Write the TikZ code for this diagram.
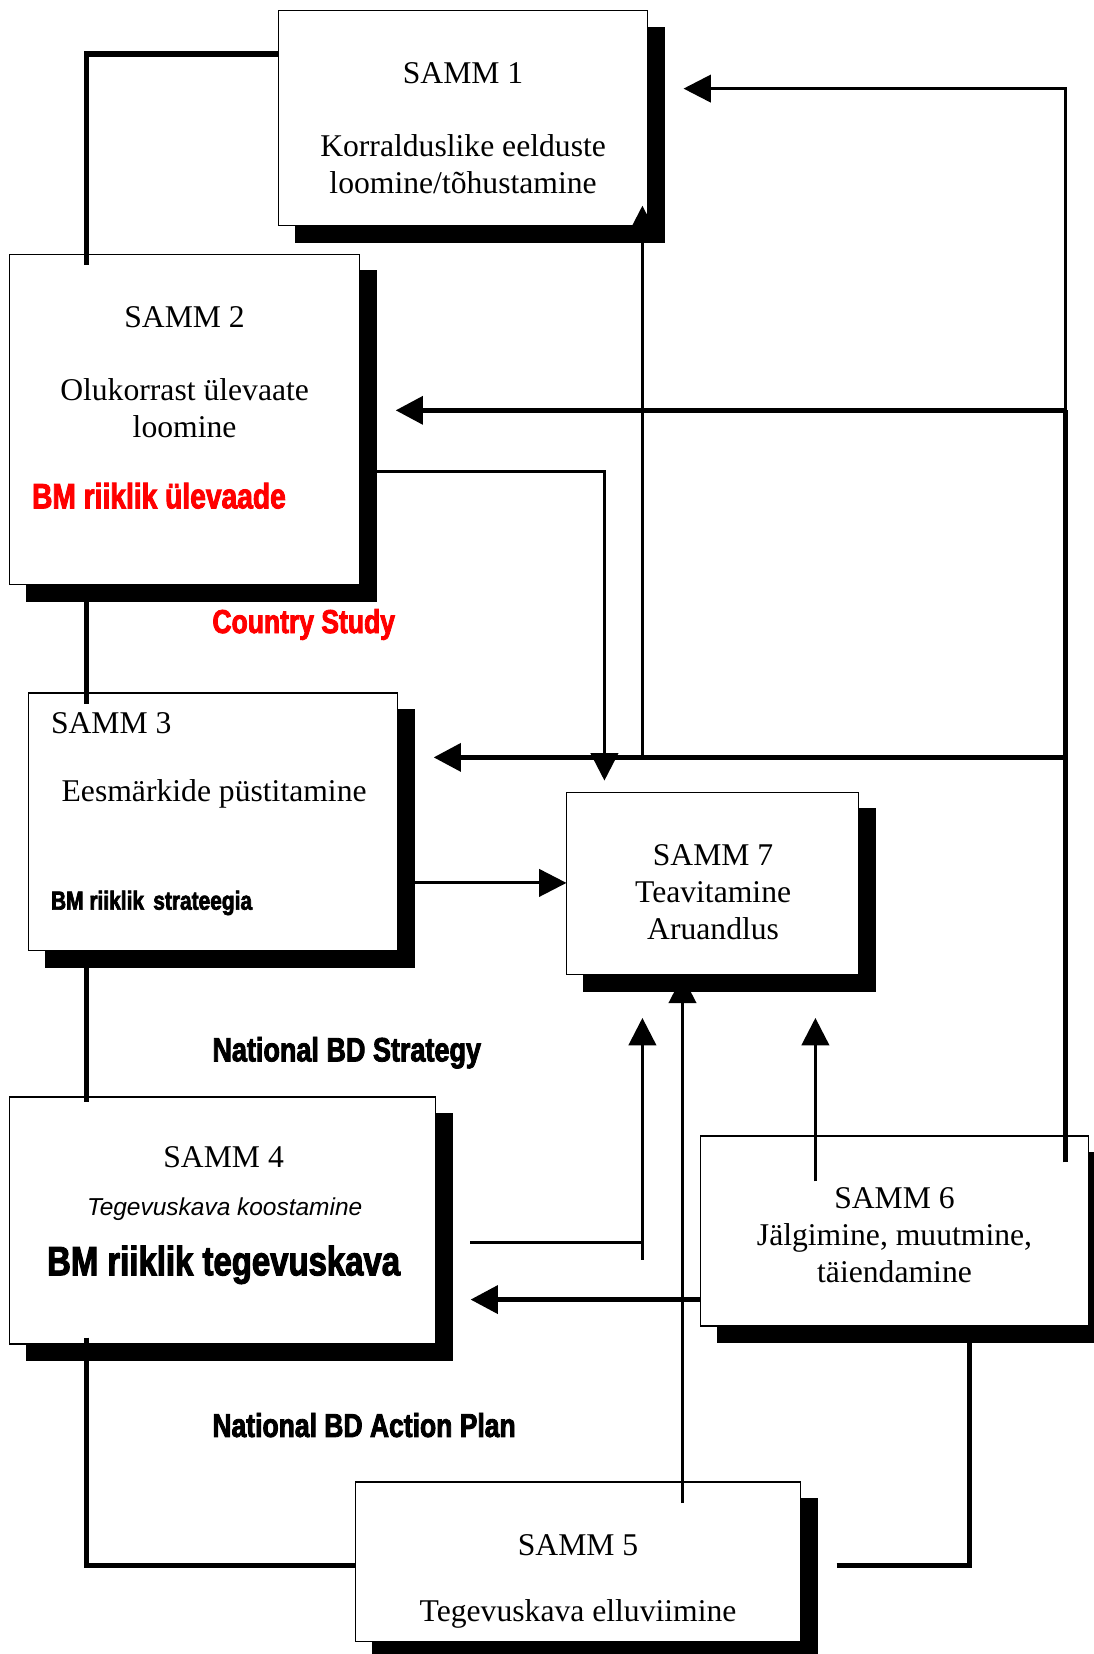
\documentclass[tikz,border=0pt]{standalone}
\usepackage{fontspec}
\setmainfont{Liberation Serif}
\newfontfamily\impact[FakeStretch=0.8,FakeBold=2.5]{Liberation Sans}
\newfontfamily\arialfam{Liberation Sans}
\usetikzlibrary{arrows.meta,shadows}
\begin{document}
\begin{tikzpicture}[x=0.5pt,y=-0.5pt,
  box/.style 2 args={draw=black, line width=0.6pt, fill=white, inner sep=0pt, outer sep=0pt,
    anchor=north west, minimum width=#1*0.5pt, minimum height=#2*0.5pt,
    general shadow={fill=black, draw=black, shadow xshift=8pt, shadow yshift=-8pt}},
  txt/.style={font=\fontsize{15}{17.5}\selectfont, align=center, inner sep=0pt},
  imp/.style={font=\impact\bfseries\fontsize{16}{19}\selectfont, inner sep=0pt, anchor=west},
  thk/.style={line width=2.6pt},
  thn/.style={line width=1.4pt},
  tip/.style={-{Triangle[length=13pt,width=13pt]}}
]
\useasboundingbox[fill=white] (0,0) rectangle (1037,1568);

% boxes
\node[box={350}{204}] (s1) at (264,10) {};
\node[box={332}{313}] (s2) at (9,241) {};
\node[box={350}{244}] (s3) at (27,657) {};
\node[box={277}{173}] (s7) at (537,751) {};
\node[box={404}{234}] (s4) at (9,1040) {};
\node[box={368}{180}] (s6) at (664,1077) {};
\node[box={422}{151}] (s5) at (337,1405) {};

% texts
\node[txt] (t1a) at (439,69) {SAMM 1};
\node[txt] (t1b) at (439,156) {Korralduslike eelduste\\loomine/tõhustamine};
\node[txt] (t2a) at (175,301) {SAMM 2};
\node[txt] (t2b) at (175,387) {Olukorrast ülevaate\\loomine};
\node[imp, text=red, font=\impact\bfseries\fontsize{16.7}{19}\selectfont] (t2c) at (30,470) {BM riiklik ülevaade};
\node[imp, text=red, font=\impact\bfseries\fontsize{15.7}{19}\selectfont] (t2d) at (201,592) {Country Study};
\node[txt, anchor=west] (t3a) at (48,686) {SAMM 3};
\node[txt] (t3b) at (203,753) {Eesmärkide püstitamine};
\node[imp, font=\impact\bfseries\fontsize{12.4}{15}\selectfont] (t3c) at (48,856) {BM riiklik\hspace{0.35em}strateegia};
\node[txt] (t7) at (676,846) {SAMM 7\\Teavitamine\\Aruandlus};
\node[imp] (tns) at (201,998) {National BD Strategy};
\node[txt] (t4a) at (212,1097) {SAMM 4};
\node[inner sep=0pt, font=\arialfam\itshape\fontsize{11.6}{14}\selectfont] (t4b) at (213,1146) {Tegevuskava koostamine};
\node[inner sep=0pt, font=\impact\bfseries\fontsize{19.5}{23}\selectfont] (t4c) at (212,1199) {BM riiklik tegevuskava};
\node[txt] (t6) at (848,1171) {SAMM 6\\Jälgimine, muutmine,\\täiendamine};
\node[imp, font=\impact\bfseries\fontsize{15.7}{19}\selectfont] (tna) at (201,1351) {National BD Action Plan};
\node[txt] (t5a) at (548,1465) {SAMM 5};
\node[txt] (t5b) at (548,1530) {Tegevuskava elluviimine};

% coordinates
\coordinate (a1) at (82,51);
\coordinate (a2) at (82,251);
\coordinate (b1) at (82,570);
\coordinate (b2) at (82,667);
\coordinate (c1) at (82,917);
\coordinate (c2) at (82,1045);
\coordinate (d1) at (82,1268);
\coordinate (d2) at (82,1484);
\coordinate (e1) at (793,1484);
\coordinate (e2) at (919,1484);
\coordinate (e3) at (919,1273);
\coordinate (r0) at (1010,1102);
\coordinate (r1) at (1010,718);
\coordinate (r2) at (1010,389);
\coordinate (r3) at (1010,84);
\coordinate (h1) at (375,389);
\coordinate (h2) at (411,718);
\coordinate (h3) at (648,84);
\coordinate (f1) at (357,447);
\coordinate (f2) at (573,447);
\coordinate (f3) at (573,740);
\coordinate (g1) at (609,718);
\coordinate (g2) at (609,195);
\coordinate (k1) at (393,837);
\coordinate (m1) at (647,1425);
\coordinate (m2) at (647,925);
\coordinate (n1) at (446,1178);
\coordinate (n2) at (609,1178);
\coordinate (n3) at (609,1194);
\coordinate (n4) at (609,965);
\coordinate (p1) at (773,1120);
\coordinate (p2) at (773,965);
\coordinate (q1) at (664,1232);
\coordinate (q2) at (446,1232);

% connectors
\draw[thk] (s1.west |- a1) -- (a1) -- (a2);
\draw[thk] (b1) -- (b2);
\draw[thk] (c1) -- (c2);
\draw[thk] (d1) -- (d2) -- (s5.west |- d2);
\draw[thk] (e1) -- (e2) -- (e3);
\draw[thk] (r0) -- (r2);
\draw[thk,tip] (r2) -- (h1);
\draw[thk,tip] (r1) -- (h2);
\draw[thn,tip] (r2) -- (r3) -- (h3);
\draw[thn,tip] (f1) -- (f2) -- (f3);
\draw[thn,tip] (g1) -- (g2);
\draw[thn,tip] (k1) -- (s7.west |- k1);
\draw[thn,tip] (m1) -- (m2);
\draw[thn] (n1) -- (n2);
\draw[thn,tip] (n3) -- (n4);
\draw[thn,tip] (p1) -- (p2);
\draw[thk,tip] (q1) -- (q2);
\end{tikzpicture}
\end{document}
